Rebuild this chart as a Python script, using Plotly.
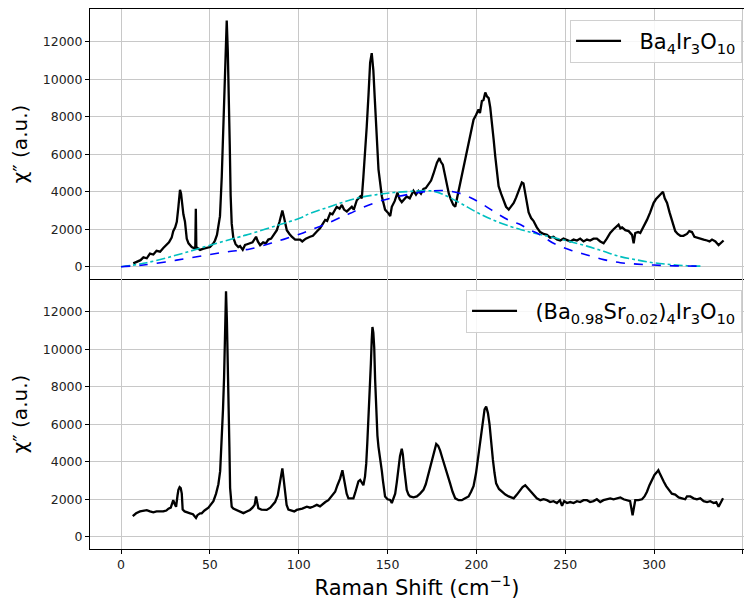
import plotly.graph_objects as go
from plotly.subplots import make_subplots

# ---- Top spectrum: Ba4Ir3O10 ----
top_x = [6.9, 9, 11, 12.6, 14.5, 16.3, 18.2, 20, 22, 23.8, 25.7, 27, 28.5, 29.4, 30.5, 31.4, 32.3, 33.2, 33.8, 34.5,
         35.1, 36, 37, 38, 38.9, 39.8, 41, 41.8, 42.1, 42.4, 43, 44.5, 46, 48.3, 50.1, 52, 52.9, 54, 54.8, 55.7,
         56.7, 57.2, 58.2, 58.6, 59.5, 60.1, 60.6, 61.2, 61.7, 62.3, 63.2, 64.5, 66, 67, 68.5, 69.8, 71, 72.6, 74, 76,
         77, 78.3, 80, 81.5, 82.9, 84.5, 86, 87.7, 89.2, 90.8, 91.8, 93.3, 94.8, 96.1, 98, 100.8, 102, 104, 106.4, 108,
         110.2, 112, 114.9, 116, 117.7, 119, 121.4, 123, 124.3, 125.5, 127.1, 128.5, 129.9, 131, 132.7, 134.6, 135.5,
         136.4, 137.4, 138.3, 139.3, 140.2, 141.1, 142, 142.8, 143.6, 144.9, 146.8, 148.6, 150.5, 151.5, 152.4, 154,
         155.6, 156.8, 158, 159.5, 160.8, 162.5, 164.6, 166, 167.4, 168.8, 170.2, 171.5, 173, 174.5, 175.8, 176.8,
         177.8, 179.2, 180, 181.1, 182.3, 183.4, 184.5, 185.6, 187, 188.1, 189, 189.9, 191.2, 192.7, 194, 195.6, 197,
         198.4, 199.8, 201.2, 202, 203.1, 204, 205, 205.9, 206.9, 207.8, 208.8, 209.7, 210.6, 211.5, 212.5, 213.9,
         215.3, 216.7, 218.2, 219.5, 221, 222.4, 223.7, 224.7, 225.6, 226.5, 227.5, 228.4, 229.4, 230.8, 232.1, 234,
         235.9, 237.8, 239.7, 241.5, 243.4, 245.3, 247.2, 249, 251, 252.8, 254.7, 256.6, 258.4, 260.3, 262.2, 264,
         265.9, 267.8, 269.7, 271.6, 273.4, 275.3, 277.2, 279, 280, 281, 282, 283.8, 285.7, 287.6, 288.5, 289.4, 291,
         292.2, 294, 296, 297.8, 299.7, 301, 302.5, 303.8, 305, 306, 307.3, 308.7, 310.1, 311, 311.9, 313.3, 314.8,
         316.5, 318.5, 319.8, 321.3, 322.7, 324.1, 326, 327.9, 329.8, 331.2, 332.6, 334.5, 336.3, 337.7, 339.1]
top_y = [180, 280, 350, 500, 450, 700, 650, 850, 800, 1000, 1150, 1300, 1550, 1900, 2100, 2400, 3200, 4100, 3900, 3200,
         2800, 2400, 1500, 1250, 1150, 1050, 1000, 1000, 3100, 1000, 1000, 900, 950, 1000, 1050, 1250, 1400, 1700, 2150, 2700,
         4800, 6250, 10200, 11000, 13150, 11500, 9800, 6500, 3800, 2300, 1550, 1200, 1050, 1100, 900, 1160, 1200, 1250, 1300, 1600,
         1350, 1150, 1300, 1250, 1450, 1500, 1700, 1950, 2400, 3000, 2600, 1950, 1750, 1600, 1450, 1450, 1350, 1500, 1600, 1650,
         1880, 2050, 2500, 2450, 2850, 2800, 3200, 3100, 3300, 3050, 2950, 3100, 3200, 3050, 3550, 3750, 3650,
         4800, 6000, 7500, 9200, 10900, 11400, 10500, 9000, 7500, 5200, 3750, 3050, 2850, 2700, 3200, 3500,
         3950, 3600, 3450, 3600, 3750, 3650, 4050, 3850, 4050, 3900, 4150, 4200, 4400, 4600, 4950, 5300,
         5550, 5800, 5600, 5450, 4900, 4300, 3900, 3600, 3300, 3200, 3600, 4100, 4700, 5350, 6000, 6600, 7300,
         7850, 8100, 8400, 8200, 8850, 8900, 9300, 9100, 9000, 8500, 7700, 6800, 5900, 5000, 4300, 3900,
         3550, 3200, 3050, 3200, 3400, 3700, 4050, 4300, 4500, 4450, 3950, 3400, 2900, 2600, 2450, 2100,
         1850, 1750, 1700, 1550, 1600, 1450, 1400, 1500, 1400, 1350, 1450, 1400, 1500, 1350, 1450, 1400,
         1500, 1500, 1350, 1250, 1500, 1800, 2000, 2150, 2250, 2050, 2100, 1950, 1900, 1700, 1250, 1800, 1850,
         1800, 2100, 2500, 2900, 3400, 3600, 3750, 3900, 4000, 3650, 3400, 2900, 2500, 2150, 1900, 1750, 1650,
         1650, 1750, 1900, 1850, 1600, 1550, 1500, 1450, 1400, 1350, 1450, 1350, 1150, 1300, 1400]

# ---- Fit curves (top panel) ----
blue_x = [0, 12.6, 31.3, 50, 60, 72.6, 87.7, 100.8, 106.4, 115.8, 125.2, 129, 134.6, 144, 153.4, 162.8, 172.1, 181.5,
          189, 196.5, 204, 211.5, 219, 224.7, 229.4, 235.9, 243.4, 252.8, 262.2, 271.6, 281, 290.4, 299.7, 309.1,
          318.5, 327]
blue_y = [0, 90, 350, 650, 800, 950, 1350, 1750, 1950, 2300, 2700, 2850, 3100, 3450, 3700, 3880, 4020, 4070,
          3960, 3700, 3300, 2850, 2450, 2250, 2000, 1700, 1250, 890, 625, 380, 215, 140, 90, 55,
          35, 30]
cyan_x = [0, 12.6, 31.3, 50.1, 68.9, 72.6, 87.7, 100.8, 106.4, 115.8, 125.2, 134.6, 144, 153.4, 162.8, 172.1, 176,
          181.5, 190.9, 200.3, 209.7, 219, 224.7, 229.4, 235.9, 243.4, 252.8, 262.2, 271.6, 281, 290.4, 299.7,
          309.1, 318.5, 327]
cyan_y = [0, 180, 620, 1150, 1650, 1750, 2200, 2600, 2850, 3150, 3450, 3700, 3850, 3960, 4020, 4060, 4030,
          3850, 3400, 2900, 2480, 2150, 1990, 1870, 1720, 1560, 1340, 1100, 820, 540, 360, 210,
          120, 55, 30]

# ---- Bottom spectrum: (Ba0.98Sr0.02)4Ir3O10 ----
bot_x = [6.6, 8.5, 10.7, 12.6, 14.5, 16.3, 18.2, 20, 22, 23.8, 25.5, 26.7, 28, 28.8, 29.4, 30.2, 31, 31.8, 32.3, 33,
         33.6, 34.2, 34.7, 35.8, 37, 38.9, 40.5, 41.7, 42.2, 43, 44.5, 45.4, 47, 49.2, 50.5, 52, 53.5, 54.8, 55.8, 56.7,
         57.4, 58, 58.6, 59.1, 59.6, 60.1, 60.6, 61, 61.4, 61.9, 62.3, 63.2, 65.1, 67, 68.9, 70.8, 72.6, 74, 75.2, 76,
         76.6, 77.3, 79, 80.5, 82, 84, 86.7, 88.2, 89.5, 90.3, 90.8, 91.5, 92.3, 93.2, 94.2, 96, 97.5, 98.9, 100.5, 102,
         104.6, 106.4, 108, 110.2, 112, 113.5, 115, 116.7, 118, 119.2, 120.5, 121.8, 123.3, 124.6, 125.4, 126.1, 127,
         128, 129.5, 130.8, 131.8, 132.7, 133.6, 134.6, 135.5, 136.4, 137.3, 138, 138.6, 139.2, 139.9, 140.6, 141.1,
         141.5, 142, 142.5, 143, 143.6, 144.3, 144.9, 145.5, 146.2, 146.8, 147.4, 148, 148.6, 150, 151.5, 152.4, 153.3,
         154.3, 155.2, 156.1, 157, 158, 158.6, 159.3, 160, 160.8, 161.8, 162.7, 164.6, 166.5, 168.3, 170.2, 171.5,
         172.8, 174, 175.2, 176.5, 177.4, 178.5, 179.6, 181, 182.4, 183.8, 185.2, 186.6, 188.1, 190, 191.8, 193.7,
         195.6, 197, 198.4, 199.8, 201.2, 202.4, 203.7, 204.6, 205.5, 206.5, 207.4, 208.3, 209.3, 210.2, 211.1, 212.7,
         214.4, 216.3, 218.2, 219.6, 221, 222.8, 224.7, 226, 227.5, 228.9, 230.3, 232.1, 234, 236, 237.8, 239.7,
         241.5, 243.4, 245.3, 247, 248.2, 249.4, 251, 252.8, 254.7, 256.6, 258.4, 260.3, 262.2, 264, 265.9, 267.8,
         269.7, 271.5, 273.4, 275.3, 277.2, 279, 281, 282.8, 284.7, 286.5, 287.9, 289.4, 291.2, 293.2, 294.6, 296,
         297.4, 298.8, 300.2, 301.6, 302.4, 303.1, 304.2, 305.4, 306.8, 308.2, 310, 311.9, 313.8, 315.7, 317.5, 318.5,
         320.4, 322.2, 324.1, 326, 327.9, 329.8, 331.6, 333.5, 335, 336.3, 337.5, 338.8]
bot_y = [1100, 1250, 1350, 1400, 1420, 1350, 1300, 1350, 1350, 1350, 1400, 1500, 1550, 1750, 1950, 1750, 1600, 2200, 2500, 2650,
         2600, 2300, 1450, 1350, 1300, 1250, 1200, 1080, 1000, 1150, 1250, 1250, 1400, 1550, 1700, 1900, 2300, 2800, 3500, 5000,
         6800, 8500, 11000, 13100, 11500, 9500, 7000, 4800, 2600, 1800, 1600, 1500, 1430, 1320, 1260, 1350, 1430, 1550, 1700, 2150,
         1800, 1520, 1450, 1420, 1430, 1550, 1850, 2200, 2850, 3300, 3650, 3100, 2300, 1700, 1450, 1400, 1350, 1430, 1450, 1500,
         1600, 1550, 1600, 1700, 1620, 1750, 1850, 1950, 2100, 2200, 2400, 2750, 3100, 3550, 3100, 2800, 2300,
         2050, 2050, 2050, 2350, 2650, 2950, 3030, 2850, 2750, 3200, 3900, 5000, 6600, 7900, 9200, 10500,
         11200, 10900, 10100, 8400, 6600, 5400, 4800, 4400, 4100, 3500, 3000, 2500, 2150, 2000, 1960, 1800, 2000,
         2300, 2900, 3700, 4300, 4700, 4400, 3700, 3000, 2500, 2250, 2150, 2100, 2150, 2300, 2500, 2800,
         3250, 3800, 4150, 4600, 4950, 4850, 4600, 4150, 3750, 3300, 2850, 2400, 2050, 1950, 1950, 2050,
         2150, 2400, 2700, 3400, 4400, 5400, 6400, 6800, 6950, 6600, 6000, 5000, 4100, 3400, 2850, 2550,
         2400, 2250, 2150, 2100, 2050, 2250, 2500, 2650, 2750, 2600, 2400, 2200, 2050, 1950, 2000, 1950,
         1850, 1900, 1800, 1950, 1650, 1900, 1800, 1850, 1800, 1900, 1850, 1950, 1950, 1850, 1900, 2000,
         1850, 1950, 2000, 2050, 2000, 2050, 2100, 2000, 1960, 1900, 1150, 1950, 1950, 2000, 2150, 2400,
         2750, 3050, 3300, 3450, 3550, 3400, 3150, 2950, 2700, 2500, 2300, 2250, 2100, 2050, 2000, 2150,
         2150, 2050, 2000, 2050, 1900, 1850, 1900, 1800, 1850, 1600, 1800, 2050]

x_ticks = [0, 50, 100, 150, 200, 250, 300, 350]
y_ticks = [0, 2000, 4000, 6000, 8000, 10000, 12000]
label_top = "  Ba<sub>4</sub>Ir<sub>3</sub>O<sub>10</sub>"
label_bot = "  (Ba<sub>0.98</sub>Sr<sub>0.02</sub>)<sub>4</sub>Ir<sub>3</sub>O<sub>10</sub>"

FONT = "DejaVu Sans"
fig = make_subplots(rows=2, cols=1, shared_xaxes=True, vertical_spacing=0)

fig.add_trace(go.Scatter(x=top_x, y=top_y, mode="lines", name=label_top,
                         line=dict(color="black", width=2.3), legend="legend"), row=1, col=1)
fig.add_trace(go.Scatter(x=cyan_x, y=cyan_y, mode="lines", showlegend=False,
                         line=dict(color="#00bfbf", width=1.6, dash="dashdot", shape="spline")), row=1, col=1)
fig.add_trace(go.Scatter(x=blue_x, y=blue_y, mode="lines", showlegend=False,
                         line=dict(color="#0000ff", width=1.6, dash="dash", shape="spline")), row=1, col=1)
fig.add_trace(go.Scatter(x=bot_x, y=bot_y, mode="lines", name=label_bot,
                         line=dict(color="black", width=2.3), legend="legend2"), row=2, col=1)

grid = "#c8c8c8"
xcommon = dict(range=[-17.45, 350.6], tickvals=x_ticks, showgrid=True, gridcolor=grid, gridwidth=1,
               showline=True, linecolor="black", linewidth=1, zeroline=False, automargin=False,
               tickfont=dict(family=FONT, size=12.5, color="#222"))
ycommon = dict(range=[-656, 13760], tickvals=y_ticks, tickformat="d", showgrid=True, gridcolor=grid, gridwidth=1,
               showline=True, linecolor="black", linewidth=1, mirror=False, zeroline=False, automargin=False,
               ticks="outside", ticklen=4, tickcolor="black",
               tickfont=dict(family=FONT, size=12.5, color="#222"),
               title=dict(text="χ″ (a.u.)", font=dict(family=FONT, size=20, color="black"), standoff=15))

fig.update_xaxes(**xcommon)
fig.update_xaxes(showticklabels=False, ticks="", mirror=True, row=1, col=1)
fig.update_xaxes(ticks="outside", ticklen=4, tickcolor="black", mirror=False,
                 title=dict(text="Raman Shift (cm<sup>−1</sup>)", font=dict(family=FONT, size=21, color="black"),
                            standoff=2), row=2, col=1)
fig.update_yaxes(**ycommon)

legend_common = dict(xanchor="right", yanchor="top", bgcolor="rgba(255,255,255,0.85)", itemwidth=45,
                     bordercolor="#d0d0d0", borderwidth=1, font=dict(family=FONT, size=21, color="black"))
fig.update_layout(
    width=736, height=599,
    margin=dict(l=82, r=0, t=1, b=58, autoexpand=False),
    plot_bgcolor="white", paper_bgcolor="white",
    font=dict(family=FONT),
    legend=dict(x=0.997, y=0.98, **legend_common),
    legend2=dict(x=0.997, y=0.48, **legend_common),
)
fig.update_layout(xaxis_domain=[0, 1], xaxis2_domain=[0, 1], yaxis_domain=[0.5, 1], yaxis2_domain=[0, 0.5])

fig.write_html("out.html")
